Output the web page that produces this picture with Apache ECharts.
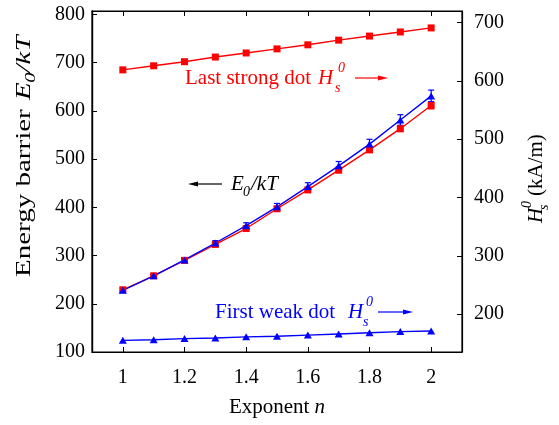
<!DOCTYPE html>
<html>
<head>
<meta charset="utf-8">
<script src="https://cdn.jsdelivr.net/npm/echarts@6/dist/echarts.min.js"></script>
<style>
  html, body { margin: 0; padding: 0; background: #ffffff; }
  #chart { width: 559px; height: 425px; }
</style>
</head>
<body>
<div id="chart"></div>
<script>
// Exponent n of the anisotropy profile
const exponents = [1.0, 1.1, 1.2, 1.3, 1.4, 1.5, 1.6, 1.7, 1.8, 1.9, 2.0];

// Energy barrier E0/kT (left axis), red squares with error bars
const barrierRed = [229, 258, 290, 323, 356, 397, 436, 477, 519, 563, 611];
const barrierRedErr = [2, 2, 2, 3, 3, 4, 4, 5, 5, 6, 7];

// Energy barrier E0/kT (left axis), blue triangles with error bars
const barrierBlue = [228, 258, 291, 326, 362, 401, 443, 486, 531, 581, 631];
const barrierBlueErr = [3, 3, 4, 5, 6, 7, 8, 9, 10, 11, 12];

// Switching field Hs0 in kA/m (right axis)
const lastStrongHs = [619, 626, 633, 641, 648, 655, 662, 670, 677, 684, 691];
const firstWeakHs = [155, 156, 158, 159, 161, 162, 164, 166, 168, 170, 171];

// Tick positions
const xTickValues = [1, 1.2, 1.4, 1.6, 1.8, 2];
const energyTickValues = [100, 200, 300, 400, 500, 600, 700, 800];
const fieldTickValues = [200, 300, 400, 500, 600, 700];

const SERIF = '"Liberation Serif", "Times New Roman", serif';
const RED = '#ff0000';
const BLUE = '#0000ff';
const BLACK = '#000000';

const pairs = (xs, ys) => xs.map((x, i) => [x, ys[i]]);
const bars = (xs, ys, es) => xs.map((x, i) => [x, ys[i] - es[i], ys[i] + es[i]]);

function errorBarRenderer(color) {
  return function (params, api) {
    const x = api.value(0);
    const top = api.coord([x, api.value(2)]);
    const bot = api.coord([x, api.value(1)]);
    const cap = 3;
    const style = { stroke: color, lineWidth: 1.2 };
    return {
      type: 'group',
      children: [
        { type: 'line', shape: { x1: top[0], y1: top[1], x2: bot[0], y2: bot[1] }, style },
        { type: 'line', shape: { x1: top[0] - cap, y1: top[1], x2: top[0] + cap, y2: top[1] }, style },
        { type: 'line', shape: { x1: bot[0] - cap, y1: bot[1], x2: bot[0] + cap, y2: bot[1] }, style }
      ]
    };
  };
}

function txt(x, y, text, size, italic, color) {
  return {
    type: 'text', x, y,
    style: {
      text, fontFamily: SERIF, fontSize: size,
      fontStyle: italic ? 'italic' : 'normal',
      fill: color, align: 'left', verticalAlign: 'middle'
    }
  };
}

// horizontal arrow from (xFrom, y) pointing to (xTo, y)
function arrow(xFrom, xTo, y, color) {
  const dir = xTo > xFrom ? 1 : -1;
  const len = 10, half = 2.6;
  return {
    type: 'group',
    children: [
      { type: 'line', shape: { x1: xFrom, y1: y, x2: xTo - dir * 4, y2: y }, style: { stroke: color, lineWidth: 1.2 } },
      { type: 'polygon', shape: { points: [[xTo, y], [xTo - dir * len, y - half], [xTo - dir * len, y + half]] }, style: { fill: color } }
    ]
  };
}

const tickLabelStyle = { fontFamily: SERIF, fontSize: 20, color: BLACK };

const chart = echarts.init(document.getElementById('chart'), null, { renderer: 'canvas' });

chart.setOption({
  animation: false,
  backgroundColor: '#ffffff',
  grid: {
    left: 92, right: 97, top: 11, bottom: 73,
    show: true, borderColor: BLACK, borderWidth: 1.2, backgroundColor: 'transparent'
  },
  xAxis: [
    {
      type: 'value', position: 'bottom', min: 0.9, max: 2.1,
      axisLine: { show: true, lineStyle: { color: BLACK, width: 1.2 } },
      axisTick: { show: true, inside: true, length: 5, customValues: xTickValues, lineStyle: { color: BLACK } },
      axisLabel: { show: true, margin: 16, customValues: xTickValues, ...tickLabelStyle },
      splitLine: { show: false },
      name: 'Exponent {i|n}', nameLocation: 'middle', nameGap: 45,
      nameTextStyle: {
        fontFamily: SERIF, fontSize: 21, color: BLACK,
        rich: { i: { fontFamily: SERIF, fontSize: 21, fontStyle: 'italic', color: BLACK } }
      }
    },
    {
      type: 'value', position: 'top', min: 0.9, max: 2.1,
      axisLine: { show: true, lineStyle: { color: BLACK, width: 1.2 } },
      axisTick: { show: true, inside: true, length: 5, customValues: xTickValues, lineStyle: { color: BLACK } },
      axisLabel: { show: false },
      splitLine: { show: false }
    }
  ],
  yAxis: [
    {
      type: 'value', position: 'left', min: 100, max: 807,
      axisLine: { show: true, lineStyle: { color: BLACK, width: 1.4 } },
      axisTick: { show: true, inside: true, length: 5, customValues: energyTickValues, lineStyle: { color: BLACK } },
      axisLabel: { show: true, margin: 7, customValues: energyTickValues, ...tickLabelStyle },
      splitLine: { show: false }
    },
    {
      type: 'value', position: 'right', min: 135, max: 720,
      axisLine: { show: true, lineStyle: { color: BLACK, width: 1.2 } },
      axisTick: { show: true, inside: true, length: 5, customValues: fieldTickValues, lineStyle: { color: BLACK } },
      axisLabel: { show: true, margin: 12, customValues: fieldTickValues, ...tickLabelStyle },
      splitLine: { show: false }
    }
  ],
  series: [
    {
      name: 'E0/kT (squares)', type: 'line', xAxisIndex: 0, yAxisIndex: 0,
      data: pairs(exponents, barrierRed),
      symbol: 'rect', symbolSize: 7, showAllSymbol: true,
      lineStyle: { color: RED, width: 1.4 }, itemStyle: { color: RED }
    },
    {
      name: 'E0/kT (squares) error', type: 'custom', xAxisIndex: 0, yAxisIndex: 0,
      data: bars(exponents, barrierRed, barrierRedErr),
      encode: { x: 0, y: [1, 2] },
      renderItem: errorBarRenderer(RED)
    },
    {
      name: 'E0/kT (triangles)', type: 'line', xAxisIndex: 0, yAxisIndex: 0,
      data: pairs(exponents, barrierBlue),
      symbol: 'triangle', symbolSize: [8, 7], showAllSymbol: true,
      lineStyle: { color: BLUE, width: 1.4 }, itemStyle: { color: BLUE }
    },
    {
      name: 'E0/kT (triangles) error', type: 'custom', xAxisIndex: 0, yAxisIndex: 0,
      data: bars(exponents, barrierBlue, barrierBlueErr),
      encode: { x: 0, y: [1, 2] },
      renderItem: errorBarRenderer(BLUE)
    },
    {
      name: 'Last strong dot Hs0', type: 'line', xAxisIndex: 0, yAxisIndex: 1,
      data: pairs(exponents, lastStrongHs),
      symbol: 'rect', symbolSize: 7, showAllSymbol: true,
      lineStyle: { color: RED, width: 1.4 }, itemStyle: { color: RED }
    },
    {
      name: 'First weak dot Hs0', type: 'line', xAxisIndex: 0, yAxisIndex: 1,
      data: pairs(exponents, firstWeakHs),
      symbol: 'triangle', symbolSize: [8, 7], showAllSymbol: true,
      lineStyle: { color: BLUE, width: 1.4 }, itemStyle: { color: BLUE }
    }
  ],
  graphic: [
    // curve annotations
    {
      type: 'group',
      children: [
        txt(185, 78, 'Last strong dot', 21, false, RED),
        txt(318, 78, 'H', 21, true, RED),
        txt(338, 68, '0', 14, true, RED),
        txt(335, 88, 's', 14, true, RED),
        arrow(355, 388, 78, RED)
      ]
    },
    {
      type: 'group',
      children: [
        arrow(222, 188, 184, BLACK),
        txt(231, 184, 'E', 21, true, BLACK),
        txt(243, 192, '0', 14, true, BLACK),
        txt(251, 184, '/kT', 21, true, BLACK)
      ]
    },
    {
      type: 'group',
      children: [
        txt(215, 312, 'First weak dot', 21, false, BLUE),
        txt(348, 312, 'H', 21, true, BLUE),
        txt(366, 302, '0', 14, true, BLUE),
        txt(363, 322, 's', 14, true, BLUE),
        arrow(378, 413, 312, BLUE)
      ]
    },
    // left axis title, reading upwards
    {
      type: 'group', x: 25, y: 277, rotation: Math.PI / 2, scaleX: 1.45,
      children: [
        txt(0, 0, 'Energy barrier ', 20, false, BLACK),
        txt(122, 0, 'E', 20, true, BLACK),
        txt(134, 6, '0', 14, true, BLACK),
        txt(141, 0, '/kT', 20, true, BLACK)
      ]
    },
    // right axis title, reading upwards
    {
      type: 'group', x: 536, y: 223, rotation: Math.PI / 2,
      children: [
        txt(0, 0, 'H', 21, true, BLACK),
        txt(15, -9, '0', 14, true, BLACK),
        txt(13, 8, 's', 14, true, BLACK),
        txt(27, 0, '(kA/m)', 21, false, BLACK)
      ]
    }
  ]
});
</script>
</body>
</html>
